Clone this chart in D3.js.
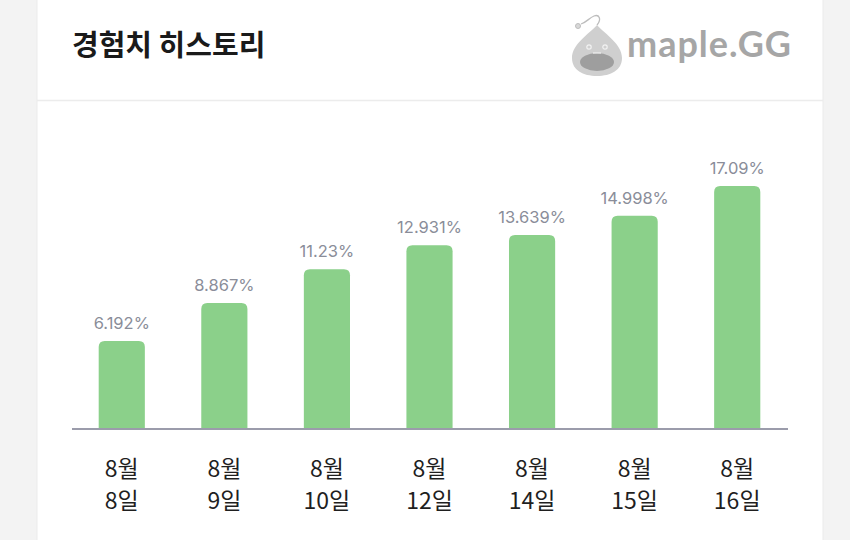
<!DOCTYPE html>
<html><head><meta charset="utf-8">
<script src="https://cdn.jsdelivr.net/npm/d3@7"></script>
<style>
html,body{margin:0;padding:0;background:#f3f3f3;}
svg{display:block;}
</style></head>
<body>
<svg id="chart" width="850" height="540"></svg>
<script>
const months = ["8월","8월","8월","8월","8월","8월","8월"];
const days = ["8일","9일","10일","12일","14일","15일","16일"];
const categories = ["8/8","8/9","8/10","8/12","8/14","8/15","8/16"];
const values = [6.192, 8.867, 11.23, 12.931, 13.639, 14.998, 17.09];
const valueLabels = ["6.192%","8.867%","11.23%","12.931%","13.639%","14.998%","17.09%"];
const title = "경험치 히스토리";

const svg = d3.select("#chart");
// page background and card
svg.append("rect").attr("x",0).attr("y",0).attr("width",850).attr("height",540).attr("fill","#f3f3f3");
svg.append("rect").attr("x",37).attr("y",-10).attr("width",786).attr("height",560)
  .attr("fill","#ffffff").attr("stroke","#ebebeb").attr("stroke-width",1);
svg.append("line").attr("x1",37).attr("x2",823).attr("y1",100.5).attr("y2",100.5)
  .attr("stroke","#ececec").attr("stroke-width",1.5);

// title
svg.append("text").attr("x",72).attr("y",56).text(title)
  .attr("font-family","'Noto Sans CJK KR', 'Noto Sans', sans-serif")
  .attr("font-size",29).attr("font-weight",700).attr("fill","#1a1a1a");

// logo
const logo = svg.append("g").attr("transform","translate(597,52)");
logo.append("path")
  .attr("d","M0,-27 C8,-18 25,-8 25,6 C25,18 14,24 0,24 C-14,24 -25,18 -25,6 C-25,-8 -8,-18 0,-27 Z")
  .attr("fill","#cfcfcf");
logo.append("ellipse").attr("cx",0).attr("cy",10).attr("rx",17).attr("ry",9).attr("fill","#9e9e9e");
logo.append("circle").attr("cx",-8).attr("cy",-5).attr("r",2.2).attr("fill","none").attr("stroke","#f2f2f2").attr("stroke-width",1.2);
logo.append("circle").attr("cx",8).attr("cy",-5).attr("r",2.2).attr("fill","none").attr("stroke","#f2f2f2").attr("stroke-width",1.2);
logo.append("path").attr("d","M-4,1 L4,1").attr("stroke","#f0f0f0").attr("stroke-width",1.2);
logo.append("path").attr("d","M0,-27 C5,-33 2,-38 -3,-36 C-8,-34 -10,-30 -16,-28")
  .attr("fill","none").attr("stroke","#bdbdbd").attr("stroke-width",1.3);
logo.append("circle").attr("cx",-19).attr("cy",-26).attr("r",2.5).attr("fill","#d8d8d8").attr("stroke","#bdbdbd");
svg.append("text").attr("x",627).attr("y",57).text("maple.GG")
  .attr("font-family","Lato, 'Open Sans', sans-serif").attr("font-size",36)
  .attr("font-weight",700).attr("fill","#a6a6a6").attr("letter-spacing",1)
  .attr("textLength",165).attr("lengthAdjust","spacing");

// scales
const x = d3.scaleBand().domain(categories).range([71,788]).paddingInner(0.55).paddingOuter(0.27);
const y = d3.scaleLinear().domain([0, d3.max(values)]).range([429, 186]);

const g = svg.append("g");
const r = 6;
g.selectAll("path.bar").data(values).join("path").attr("class","bar")
  .attr("fill","#8bd08a")
  .attr("d",(d,i)=>{
    const x0 = x(categories[i]), w = x.bandwidth(), y0 = y(d), yb = y(0);
    return `M${x0},${yb} L${x0},${y0+r} Q${x0},${y0} ${x0+r},${y0} L${x0+w-r},${y0} Q${x0+w},${y0} ${x0+w},${y0+r} L${x0+w},${yb} Z`;
  });

g.selectAll("text.val").data(values).join("text").attr("class","val")
  .attr("x",(d,i)=>x(categories[i])+x.bandwidth()/2)
  .attr("y",d=>y(d)-12)
  .attr("text-anchor","middle")
  .attr("font-family","Inter, 'Noto Sans', sans-serif").attr("font-size",16.5)
  .attr("fill","#8a8d99")
  .text((d,i)=>valueLabels[i]);

// axis
const axis = d3.axisBottom(x).tickSize(0).tickFormat("");
const ag = svg.append("g").attr("transform",`translate(0,${y(0)})`).call(axis);
ag.select(".domain").attr("stroke","#9b9cab").attr("stroke-width",2).attr("d","M72,0H788");

const lab = svg.append("g");
categories.forEach((c,i)=>{
  const cx = x(c)+x.bandwidth()/2;
  const t = lab.append("text").attr("x",cx).attr("text-anchor","middle")
    .attr("font-family","'Noto Sans CJK KR', sans-serif").attr("font-size",23).attr("fill","#1f1f1f");
  t.append("tspan").attr("x",cx).attr("y",477).text(months[i]);
  t.append("tspan").attr("x",cx).attr("y",509).text(days[i]);
});
</script>
</body></html>
